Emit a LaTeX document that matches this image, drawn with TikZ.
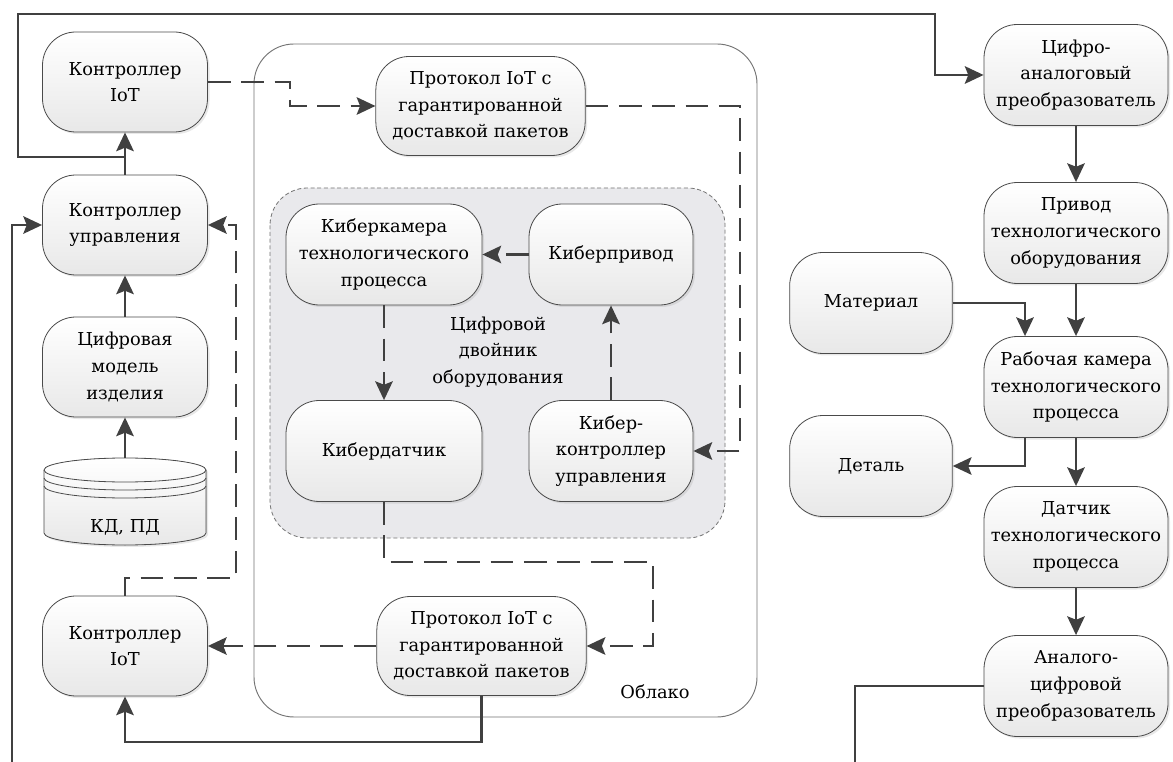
\documentclass[tikz,border=0pt]{standalone}
\usepackage{fontspec}
\setmainfont{DejaVu Serif}[Scale=0.785]
\usetikzlibrary{arrows.meta,shadows}
\definecolor{ln}{HTML}{404040}
\definecolor{bd}{HTML}{4A4A4A}
\definecolor{reg}{HTML}{E9E9EC}
\begin{document}
\begin{tikzpicture}[x=0.75pt,y=-0.75pt,
  box/.style={draw=bd, line width=0.6pt, rounded corners=25pt, top color=white, bottom color=black!9,
    drop shadow={opacity=0.18, shadow xshift=1.5pt, shadow yshift=-1.5pt},
    align=center, inner sep=0pt, font=\fontsize{17}{20}\selectfont},
  lbox/.style={box, minimum width=123.75pt, minimum height=75pt},
  pbox/.style={box, minimum width=157pt, minimum height=74.25pt},
  kwide/.style={box, minimum width=147pt, minimum height=75.75pt},
  knar/.style={box, minimum width=123pt, minimum height=75.75pt},
  rbox/.style={box, minimum width=138pt, minimum height=75.75pt},
  mbox/.style={box, minimum width=122pt, minimum height=75.75pt},
  plain/.style={align=center, inner sep=0pt, font=\fontsize{17}{20}\selectfont},
  conn/.style={draw=ln, line width=2.2pt, -{Stealth[length=14pt,width=13pt,inset=2.5pt]}},
  sline/.style={draw=ln, line width=2.2pt},
  dconn/.style={conn, dash pattern=on 17pt off 8pt},
  dline/.style={sline, dash pattern=on 17pt off 8pt},
]
\useasboundingbox (0,0) rectangle (1173,762);
\fill[white] (0,0) rectangle (1173,762);

% cloud
\draw[draw=black!55, line width=0.7pt, rounded corners=30pt] (254,44) rectangle (757,717);
\node[plain] (cloud) at (655,692) {Облако};
% digital twin region
\draw[draw=black!55, fill=reg, line width=0.6pt, dash pattern=on 3pt off 2pt, rounded corners=28pt] (270,188) rectangle (725,538);
\node[plain] (twin) at (498,352) {Цифровой\\двойник\\оборудования};

% left column
\node[lbox] (iot1) at (125,82) {Контроллер\\IoT};
\node[lbox] (ctrl) at (125,225) {Контроллер\\управления};
\node[lbox] (model) at (125,367) {Цифровая\\модель\\изделия};
\node[lbox] (iot2) at (125,646) {Контроллер\\IoT};

% database cylinder
\begin{scope}[draw=bd, line width=0.6pt]
\filldraw[top color=white, bottom color=black!9, drop shadow={opacity=0.18, shadow xshift=1.5pt, shadow yshift=-1.5pt}]
  (44,470) -- (44,533) arc[start angle=180, end angle=360, x radius=60.75pt, y radius=9pt]
  -- (206,470) arc[start angle=0, end angle=180, x radius=60.75pt, y radius=9pt] -- cycle;
\draw (44,470) arc[start angle=180, end angle=360, x radius=60.75pt, y radius=9pt];
\draw (44,478) arc[start angle=180, end angle=360, x radius=60.75pt, y radius=9pt];
\draw (44,486) arc[start angle=180, end angle=360, x radius=60.75pt, y radius=9pt];
\end{scope}
\coordinate (dbtop) at (125,458);
\node[plain] (db) at (125,527) {КД, ПД};

% cloud nodes
\node[pbox] (proto1) at (480.5,106) {Протокол IoT с\\гарантированной\\доставкой пакетов};
\node[pbox] (proto2) at (481.5,646) {Протокол IoT с\\гарантированной\\доставкой пакетов};
\node[kwide] (kcam) at (384,254.5) {Киберкамера\\технологического\\процесса};
\node[knar] (kpriv) at (611,254.5) {Киберпривод};
\node[kwide] (ksens) at (384,451) {Кибердатчик};
\node[knar] (kctrl) at (611,451) {Кибер-\\контроллер\\управления};

% right side
\node[rbox] (dac) at (1076,75) {Цифро-\\аналоговый\\преобразователь};
\node[rbox] (priv) at (1076,233) {Привод\\технологического\\оборудования};
\node[mbox] (mat) at (871,303) {Материал};
\node[rbox] (work) at (1076,387) {Рабочая камера\\технологического\\процесса};
\node[mbox] (det) at (871,466) {Деталь};
\node[rbox] (sens) at (1076,537) {Датчик\\технологического\\процесса};
\node[rbox] (adc) at (1076,686) {Аналого-\\цифровой\\преобразователь};

% connectors: left column
\draw[conn] (ctrl.north) -- (iot1.south);
\coordinate (j1) at (125,157);
\draw[conn] (j1) -- (18,157) -- (18,14) -- (935,14) |- (dac.west);
\draw[conn] (model.north) -- (ctrl.south);
\draw[conn] (dbtop) -- (model.south);
\draw[dconn] (iot1.east) -- (290,82) |- (proto1.west);
\draw[dconn] (proto1.east) -- (740,106) |- (kctrl.east);
\draw[dconn] (kctrl.north) -- (kpriv.south);
\draw[dconn] (kpriv.west) -- (kcam.east);
\draw[dconn] (kcam.south) -- (ksens.north);
\draw[dconn] (ksens.south) -- (384,562) -- (653,562) |- (proto2.east);
\draw[dconn] (proto2.west) -- (iot2.east);
\draw[conn] (proto2.south) -- (481.5,742) -| (iot2.south);
\draw[dconn] (iot2.north) -- (125,578) -- (236,578) |- (ctrl.east);

% right connectors
\coordinate (mx) at (1025,0);
\draw[conn] (dac.south) -- (priv.north);
\draw[conn] (priv.south) -- (work.north);
\draw[conn] (mat.east) -| (work.north -| mx);
\draw[conn] (work.south -| mx) |- (det.east);
\draw[conn] (work.south) -- (sens.north);
\draw[conn] (sens.south) -- (adc.north);

% feedback loop leaving the page
\begin{scope}
\clip (0,0) rectangle (1173,762);
\draw[conn] (adc.west) -| (855,790) -- (12,790) |- (ctrl.west);
\end{scope}
\end{tikzpicture}
\end{document}
